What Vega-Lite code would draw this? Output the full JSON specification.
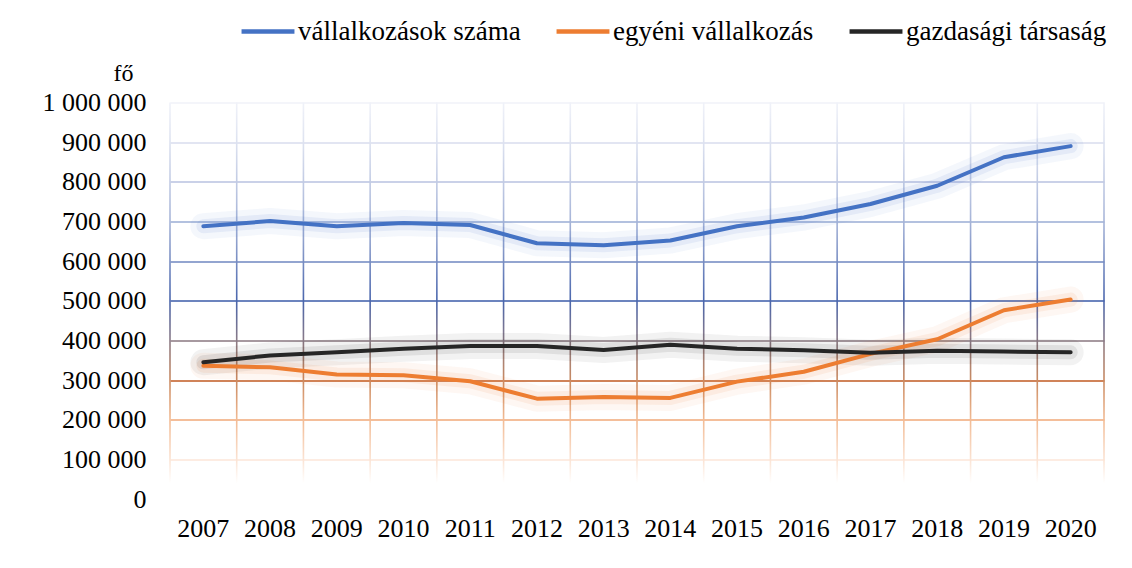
{
  "$schema": "https://vega.github.io/schema/vega-lite/v6.json",
  "width": 934,
  "height": 396.5,
  "autosize": {"type": "none"},
  "padding": {"left": 170, "top": 102.5, "right": 28, "bottom": 69},
  "background": "white",
  "config": {
    "view": {"stroke": null},
    "font": "Times New Roman, Liberation Serif, serif",
    "axis": {"labelFont": "Times New Roman, Liberation Serif, serif", "titleFont": "Times New Roman, Liberation Serif, serif", "labelColor": "#000000", "titleColor": "#000000"},
    "legend": {"labelFont": "Times New Roman, Liberation Serif, serif"}
  },
  "resolve": {"legend": {"color": "independent"}},
  "datasets": {
    "years": [
      {"year": "2007"}, {"year": "2008"}, {"year": "2009"}, {"year": "2010"}, {"year": "2011"},
      {"year": "2012"}, {"year": "2013"}, {"year": "2014"}, {"year": "2015"}, {"year": "2016"},
      {"year": "2017"}, {"year": "2018"}, {"year": "2019"}, {"year": "2020"}
    ],
    "series": [
      {"year": "2007", "series": "vállalkozások száma", "value": 688000},
      {"year": "2008", "series": "vállalkozások száma", "value": 701000},
      {"year": "2009", "series": "vállalkozások száma", "value": 688000},
      {"year": "2010", "series": "vállalkozások száma", "value": 696000},
      {"year": "2011", "series": "vállalkozások száma", "value": 691000},
      {"year": "2012", "series": "vállalkozások száma", "value": 645000},
      {"year": "2013", "series": "vállalkozások száma", "value": 640000},
      {"year": "2014", "series": "vállalkozások száma", "value": 652000},
      {"year": "2015", "series": "vállalkozások száma", "value": 688000},
      {"year": "2016", "series": "vállalkozások száma", "value": 710000},
      {"year": "2017", "series": "vállalkozások száma", "value": 744000},
      {"year": "2018", "series": "vállalkozások száma", "value": 790000},
      {"year": "2019", "series": "vállalkozások száma", "value": 862000},
      {"year": "2020", "series": "vállalkozások száma", "value": 890000},
      {"year": "2007", "series": "egyéni vállalkozás", "value": 336000},
      {"year": "2008", "series": "egyéni vállalkozás", "value": 332000},
      {"year": "2009", "series": "egyéni vállalkozás", "value": 314000},
      {"year": "2010", "series": "egyéni vállalkozás", "value": 312000},
      {"year": "2011", "series": "egyéni vállalkozás", "value": 297000},
      {"year": "2012", "series": "egyéni vállalkozás", "value": 253000},
      {"year": "2013", "series": "egyéni vállalkozás", "value": 257000},
      {"year": "2014", "series": "egyéni vállalkozás", "value": 255000},
      {"year": "2015", "series": "egyéni vállalkozás", "value": 296000},
      {"year": "2016", "series": "egyéni vállalkozás", "value": 321000},
      {"year": "2017", "series": "egyéni vállalkozás", "value": 366000},
      {"year": "2018", "series": "egyéni vállalkozás", "value": 403000},
      {"year": "2019", "series": "egyéni vállalkozás", "value": 476000},
      {"year": "2020", "series": "egyéni vállalkozás", "value": 503000},
      {"year": "2007", "series": "gazdasági társaság", "value": 345000},
      {"year": "2008", "series": "gazdasági társaság", "value": 362000},
      {"year": "2009", "series": "gazdasági társaság", "value": 370000},
      {"year": "2010", "series": "gazdasági társaság", "value": 379000},
      {"year": "2011", "series": "gazdasági társaság", "value": 386000},
      {"year": "2012", "series": "gazdasági társaság", "value": 386000},
      {"year": "2013", "series": "gazdasági társaság", "value": 376000},
      {"year": "2014", "series": "gazdasági társaság", "value": 389000},
      {"year": "2015", "series": "gazdasági társaság", "value": 379000},
      {"year": "2016", "series": "gazdasági társaság", "value": 375000},
      {"year": "2017", "series": "gazdasági társaság", "value": 369000},
      {"year": "2018", "series": "gazdasági társaság", "value": 374000},
      {"year": "2019", "series": "gazdasági társaság", "value": 372000},
      {"year": "2020", "series": "gazdasági társaság", "value": 370000}
    ]
  },
  "encoding": {
    "x": {
      "field": "year", "type": "ordinal",
      "scale": {"paddingInner": 0, "paddingOuter": 0},
      "axis": {
        "title": null, "domain": false, "ticks": false, "tickSize": 0, "grid": false,
        "labelAngle": 0, "labelFontSize": 26, "labelPadding": 16, "labelColor": "#000000"
      }
    }
  },
  "layer": [
    {
      "data": {"name": "years"},
      "mark": {
        "type": "bar", "width": 1.6, "xOffset": -33.357,
        "fill": {
          "gradient": "linear", "x1": 0, "y1": 0, "x2": 0, "y2": 1,
          "stops": [
            {"offset": 0, "color": "#f0f2f9"},
            {"offset": 0.1, "color": "#dde2f0"},
            {"offset": 0.3, "color": "#a6b4d8"},
            {"offset": 0.5, "color": "#4a66ad"},
            {"offset": 0.6, "color": "#8a7a86"},
            {"offset": 0.7, "color": "#c98a62"},
            {"offset": 0.8, "color": "#f2bb94"},
            {"offset": 0.9, "color": "#fbe3d3"},
            {"offset": 0.96, "color": "#ffffff"}
          ]
        }
      },
      "encoding": {
        "x": {"field": "year", "type": "ordinal"},
        "y": {
          "datum": 1000000, "type": "quantitative",
          "scale": {"domain": [0, 1000000], "nice": false, "zero": true},
          "axis": {
            "values": [0, 100000, 200000, 300000, 400000, 500000, 600000, 700000, 800000, 900000, 1000000],
            "tickCount": 11,
            "domain": false, "ticks": false, "tickSize": 0, "grid": true, "gridWidth": 1.6,
            "labelOverlap": false,
            "labelFontSize": 26, "labelPadding": 24, "labelColor": "#000000",
            "labelExpr": "replace(format(datum.value, ','), regexp(',', 'g'), ' ')",
            "title": "fő", "titleFontSize": 24, "titleFontWeight": "normal", "titleAngle": 0,
            "titleX": -47, "titleY": -29, "titleAlign": "center", "titleBaseline": "middle",
            "gridColor": {
              "condition": [
                {"test": "datum.value >= 1000000", "value": "#f0f2f9"},
                {"test": "datum.value >= 900000", "value": "#d8ddee"},
                {"test": "datum.value >= 800000", "value": "#b8c2e0"},
                {"test": "datum.value >= 700000", "value": "#9aacd4"},
                {"test": "datum.value >= 600000", "value": "#6f87c1"},
                {"test": "datum.value >= 500000", "value": "#3b5ba8"},
                {"test": "datum.value >= 400000", "value": "#8a7780"},
                {"test": "datum.value >= 300000", "value": "#c05a22"},
                {"test": "datum.value >= 200000", "value": "#f0a878"},
                {"test": "datum.value >= 100000", "value": "#fce6d8"}
              ],
              "value": "#ffffff"
            }
          }
        },
        "y2": {"datum": 0}
      }
    },
    {
      "data": {"name": "years"},
      "transform": [{"filter": "datum.year === '2020'"}],
      "mark": {
        "type": "bar", "width": 1.6, "xOffset": 33.357,
        "fill": {
          "gradient": "linear", "x1": 0, "y1": 0, "x2": 0, "y2": 1,
          "stops": [
            {"offset": 0, "color": "#f0f2f9"},
            {"offset": 0.1, "color": "#dde2f0"},
            {"offset": 0.3, "color": "#a6b4d8"},
            {"offset": 0.5, "color": "#4a66ad"},
            {"offset": 0.6, "color": "#8a7a86"},
            {"offset": 0.7, "color": "#c98a62"},
            {"offset": 0.8, "color": "#f2bb94"},
            {"offset": 0.9, "color": "#fbe3d3"},
            {"offset": 0.96, "color": "#ffffff"}
          ]
        }
      },
      "encoding": {
        "x": {"field": "year", "type": "ordinal"},
        "y": {"datum": 1000000, "type": "quantitative"},
        "y2": {"datum": 0}
      }
    },
    {
      "data": {"name": "series"},
      "mark": {"type": "line", "strokeWidth": 26, "opacity": 0.06, "strokeCap": "round", "strokeJoin": "round"},
      "encoding": {
        "y": {"field": "value", "type": "quantitative"},
        "color": {"field": "series", "type": "nominal", "legend": null},
        "detail": {"field": "series"}
      }
    },
    {
      "data": {"name": "series"},
      "mark": {"type": "line", "strokeWidth": 14, "opacity": 0.09, "strokeCap": "round", "strokeJoin": "round"},
      "encoding": {
        "y": {"field": "value", "type": "quantitative"},
        "color": {"field": "series", "type": "nominal", "legend": null},
        "detail": {"field": "series"}
      }
    },
    {
      "data": {"name": "series"},
      "mark": {"type": "line", "strokeWidth": 4, "strokeCap": "round", "strokeJoin": "round"},
      "encoding": {
        "y": {"field": "value", "type": "quantitative"},
        "color": {
          "field": "series", "type": "nominal",
          "scale": {
            "domain": ["vállalkozások száma", "egyéni vállalkozás", "gazdasági társaság"],
            "range": ["#4472C4", "#ED7D31", "#262626"]
          },
          "legend": {
            "title": null, "orient": "none", "direction": "horizontal",
            "legendX": 69, "legendY": -100,
            "symbolType": "stroke", "symbolSize": 2800, "symbolStrokeWidth": 4.5, "symbolOpacity": 1,
            "labelFontSize": 27, "labelColor": "#000000", "labelOffset": 1, "columnPadding": 26,
            "labelLimit": 400
          }
        }
      }
    }
  ]
}
